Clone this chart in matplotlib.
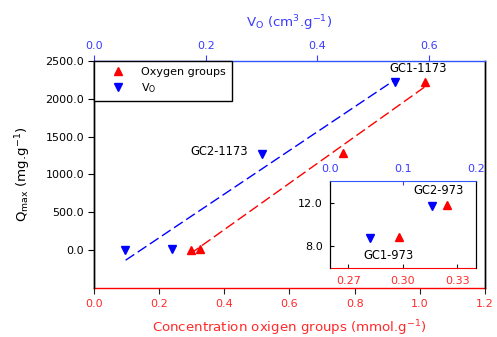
import matplotlib
matplotlib.use("Agg")
import matplotlib.pyplot as plt
from matplotlib.lines import Line2D

plt.rcParams['font.family'] = ['DejaVu Sans']
plt.rcParams['mathtext.fontset'] = 'dejavusans'

# ---- data ----
ox_conc = [0.298, 0.324, 0.763, 1.015]          # mmol/g (bottom axis)
ox_q = [8.8, 11.8, 1286, 2222]
vo = [0.055, 0.140, 0.300, 0.539]                # cm3/g (top axis)
vo_q = [8.7, 11.7, 1272, 2228]
ox_fit_x = [0.295, 1.016]
ox_fit_y = [-50, 2160]
vo_fit_x = [0.0566, 0.5375]
vo_fit_y = [-133, 2245]
labels_main = ["GC1-1173", "GC2-1173"]
labels_inset = ["GC1-973", "GC2-973"]

RED = '#ff0000'
BLUE = '#0000ff'
RED_T = '#ff2a2a'
BLUE_T = '#3a3aff'
TS = 8      # tick label size
LS = 9.6    # axis label size
AS = 8.3    # annotation size

fig = plt.figure(figsize=(4.97, 3.37), dpi=100)
ax = fig.add_axes([0.1891, 0.1454, 0.7867, 0.6736])
ax.set_xlim(0, 1.2)
ax.set_ylim(-500, 2500)
ax.set_xticks([0, 0.2, 0.4, 0.6, 0.8, 1.0, 1.2])
ax.set_xticklabels([f"{v:.1f}" for v in [0, 0.2, 0.4, 0.6, 0.8, 1.0, 1.2]])
ax.set_yticks([0, 500, 1000, 1500, 2000, 2500])
ax.set_yticklabels([f"{v:.1f}" for v in [0, 500, 1000, 1500, 2000, 2500]])
ax.tick_params(axis='x', colors='#222222', labelcolor=RED_T, labelsize=TS, length=4, width=0.8, pad=4)
ax.tick_params(axis='y', labelsize=TS, length=4, width=0.8, pad=3)
ax.spines['bottom'].set_color(RED)
ax.spines['top'].set_visible(False)
for s in ax.spines.values():
    s.set_linewidth(1.0)
ax.set_xlabel("Concentration oxigen groups (mmol.g$^{-1}$)", color=RED_T, fontsize=LS, labelpad=6.5)
ax.set_ylabel(r"$\mathregular{Q_{max}}$ (mg.g$^{-1}$)", fontsize=LS, labelpad=9)

ax.plot(ox_fit_x, ox_fit_y, color=RED, lw=1.0, dashes=(7.5, 3))
ax.plot(ox_conc, ox_q, linestyle='none', marker='^', color=RED, ms=6)
ax.text(0.994, 2400, labels_main[0], fontsize=AS, ha='center', va='center')
ax.text(0.474, 1300, labels_main[1], fontsize=AS, ha='right', va='center')

ax2 = ax.twiny()
ax2.set_xlim(0, 0.7)
ax2.set_xticks([0, 0.2, 0.4, 0.6])
ax2.set_xticklabels([f"{v:.1f}" for v in [0, 0.2, 0.4, 0.6]])
ax2.tick_params(axis='x', colors=BLUE_T, labelcolor=BLUE_T, labelsize=TS, length=4, width=0.8, pad=3)
ax2.spines['top'].set_color('#3355ff')
ax2.spines['bottom'].set_visible(False)
for s in ax2.spines.values():
    s.set_linewidth(1.0)
ax2.set_xlabel("V$_\\mathregular{O}$ (cm$^{3}$.g$^{-1}$)", color=BLUE_T, fontsize=LS, labelpad=10)
ax2.plot(vo_fit_x, vo_fit_y, color=BLUE, lw=1.0, dashes=(7.5, 3))
ax2.plot(vo, vo_q, linestyle='none', marker='v', color=BLUE, ms=6)

handles = [Line2D([], [], linestyle='none', marker='^', color=RED, ms=6),
           Line2D([], [], linestyle='none', marker='v', color=BLUE, ms=6)]
leg = ax2.legend(handles, ["Oxygen groups", "V$_\\mathregular{O}$"], loc='upper left',
                 bbox_to_anchor=(0, 1), borderaxespad=0, fancybox=False, framealpha=1,
                 edgecolor='black', fontsize=8, handlelength=3.3, handletextpad=0.4,
                 borderpad=0.55, labelspacing=0.35)
leg.get_frame().set_linewidth(1.0)
leg.set_zorder(10)

# ---- inset ----
axi = fig.add_axes([0.664, 0.2056, 0.293, 0.2573])
axi.set_xlim(0.26, 0.34)
axi.set_ylim(6, 14)
axi.set_xticks([0.27, 0.30, 0.33])
axi.set_xticklabels([f"{v:.2f}" for v in [0.27, 0.30, 0.33]])
axi.set_yticks([8, 12])
axi.set_yticklabels([f"{v:.1f}" for v in [8, 12]])
axi.tick_params(axis='x', direction='in', colors='#222222', labelcolor=RED_T, labelsize=TS, length=3, width=0.8, pad=6)
axi.tick_params(axis='y', direction='in', labelsize=TS, length=3, width=0.8, pad=5)
axi.spines['bottom'].set_color(RED)
axi.spines['top'].set_visible(False)
axi.plot(ox_conc[:2], ox_q[:2], linestyle='none', marker='^', color=RED, ms=6)
axi.text(0.3199, 13.15, labels_inset[1], fontsize=AS, ha='center', va='center')
axi.text(0.2922, 7.16, labels_inset[0], fontsize=AS, ha='center', va='center')

axi2 = axi.twiny()
axi2.set_xlim(0, 0.2)
axi2.set_xticks([0, 0.1, 0.2])
axi2.set_xticklabels([f"{v:.1f}" for v in [0, 0.1, 0.2]])
axi2.tick_params(axis='x', direction='in', colors=BLUE_T, labelcolor=BLUE_T, labelsize=TS, length=3, width=0.8, pad=5)
axi2.spines['top'].set_color('#3355ff')
axi2.spines['bottom'].set_visible(False)
axi2.plot(vo[:2], vo_q[:2], linestyle='none', marker='v', color=BLUE, ms=6)

fig.savefig("out.png", dpi=100)
